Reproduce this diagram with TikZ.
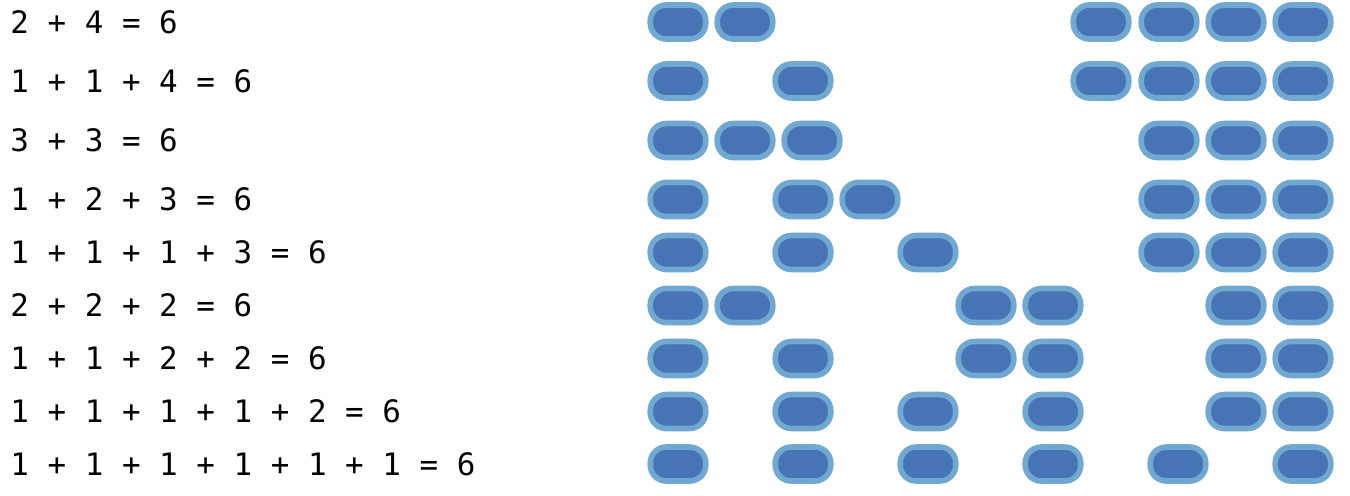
\documentclass[tikz,border=0pt]{standalone}
\usepackage{fontspec}
\newfontfamily\eqfont{DejaVu Sans Mono}
\usepackage{tikz}
\definecolor{pillfill}{RGB}{70,116,180}
\definecolor{pillrim}{RGB}{112,168,210}
\tikzset{
  eqn/.style={anchor=base west,inner sep=0pt,font=\eqfont\fontsize{15.45}{18}\selectfont},
  pill/.style={draw=pillrim,fill=pillfill,line width=2.8pt,rounded corners=8pt,
               minimum width=27.75pt,minimum height=17pt,inner sep=0pt}
}

\begin{document}
\begin{tikzpicture}[x=0.5pt,y=-0.5pt]
\useasboundingbox (0,0) rectangle (1350,495);
% the sums, one per line
\foreach \yy/\txt [count=\r] in {33/{2 + 4 = 6},92/{1 + 1 + 4 = 6},151.5/{3 + 3 = 6},
    210.5/{1 + 2 + 3 = 6},263.5/{1 + 1 + 1 + 3 = 6},316.5/{2 + 2 + 2 = 6},
    369.5/{1 + 1 + 2 + 2 = 6},422.5/{1 + 1 + 1 + 1 + 2 = 6},475/{1 + 1 + 1 + 1 + 1 + 1 = 6}}
  \node[eqn] (eq\r) at (10,\yy) {\txt};
% the pills next to each sum
\foreach \yy/\xs [count=\r] in {22/{678,745,1101,1169,1236,1303},
                                81/{678,803,1101,1169,1236,1303},
                                140.5/{678,745,812,1169,1236,1303},
                                199.5/{678,803,870,1169,1236,1303},
                                252.5/{678,803,928,1169,1236,1303},
                                305.5/{678,745,986,1053,1236,1303},
                                358.5/{678,803,986,1053,1236,1303},
                                411.5/{678,803,928,1053,1236,1303},
                                464/{678,803,928,1053,1178,1303}}
  \foreach \xx [count=\c] in \xs
    \node[pill] (p\r-\c) at (\xx,\yy) {};
\end{tikzpicture}
\end{document}
